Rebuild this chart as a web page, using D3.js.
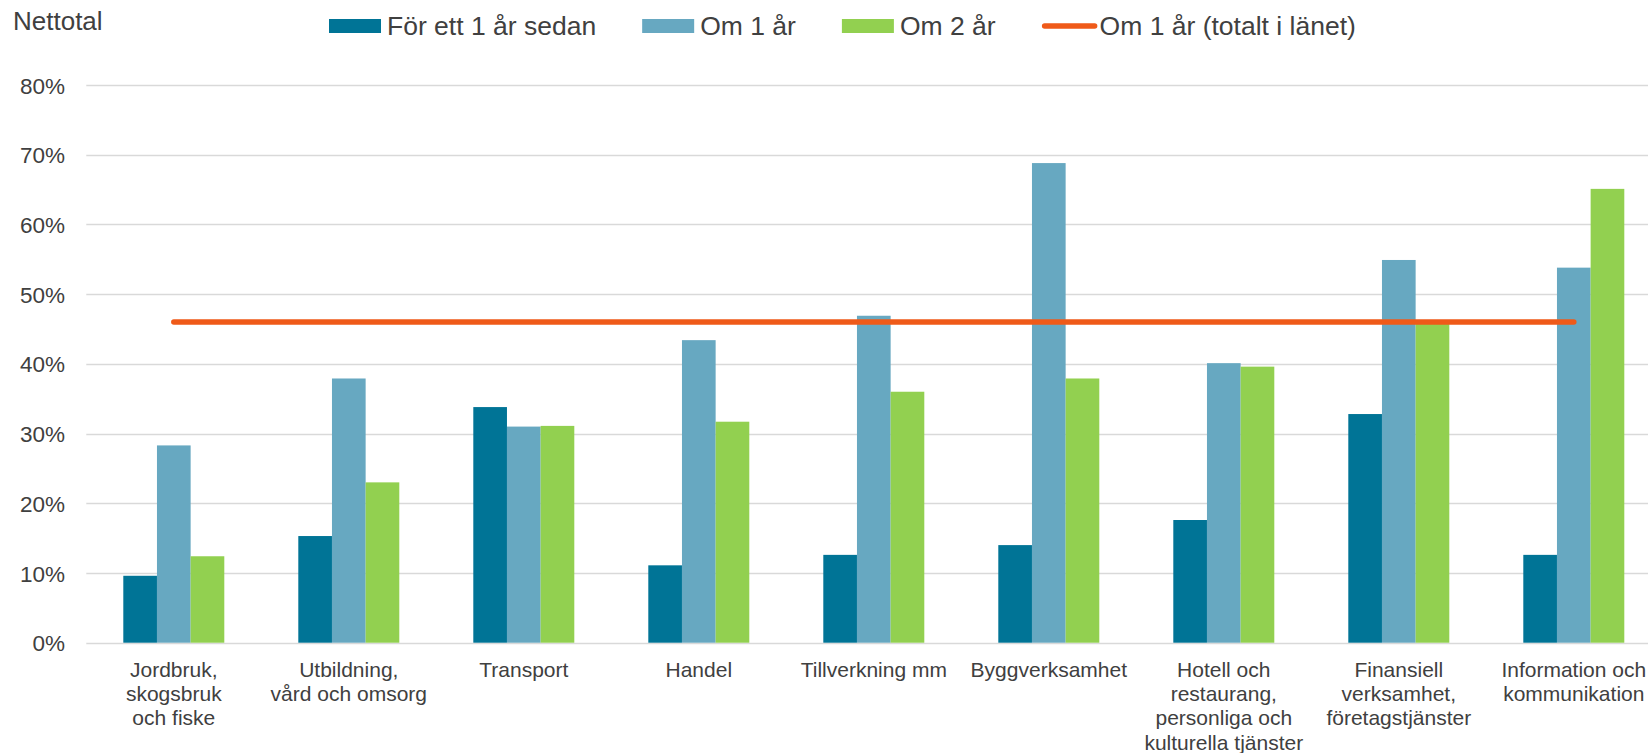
<!DOCTYPE html>
<html>
<head>
<meta charset="utf-8">
<script src="https://cdn.jsdelivr.net/npm/d3@7/dist/d3.min.js"></script>
<style>
  html, body { margin: 0; padding: 0; background: #fff; overflow: hidden; }
  svg { display: block; }
  text { font-family: "Liberation Sans", Arial, Helvetica, sans-serif; fill: #404040; }
</style>
</head>
<body>
<svg id="chart" width="1648" height="753"></svg>
<script>
// ---- data ----
const categories = [
  ["Jordbruk,", "skogsbruk", "och fiske"],
  ["Utbildning,", "vård och omsorg"],
  ["Transport"],
  ["Handel"],
  ["Tillverkning mm"],
  ["Byggverksamhet"],
  ["Hotell och", "restaurang,", "personliga och", "kulturella tjänster"],
  ["Finansiell", "verksamhet,", "företagstjänster"],
  ["Information och", "kommunikation"]
];
const seriesNames = ["För ett 1 år sedan", "Om 1 år", "Om 2 år"];
const lineName = "Om 1 år (totalt i länet)";
const forEttArSedan = [9.6, 15.3, 33.8, 11.1, 12.6, 14.0, 17.6, 32.8, 12.6];
const om1Ar        = [28.3, 37.9, 31.0, 43.4, 46.9, 68.8, 40.1, 54.9, 53.8];
const om2Ar        = [12.4, 23.0, 31.1, 31.7, 36.0, 37.9, 39.6, 45.8, 65.1];
const om1ArTotalt  = [46.0, 46.0, 46.0, 46.0, 46.0, 46.0, 46.0, 46.0, 46.0];
const yTicks = [0, 10, 20, 30, 40, 50, 60, 70, 80];
const yAxisTitle = "Nettotal";

const colors = ["#007496", "#67A8C1", "#92D050"];
const lineColor = "#EF5A19";

// ---- layout ----
const svg = d3.select("#chart");
const plotLeft = 86.3, plotRight = 1661.3, yBase = 642.7, yTop = 85;
const catKeys = categories.map((c, i) => i);

const x = d3.scaleBand().domain(catKeys).range([plotLeft, plotRight]).paddingInner(0).paddingOuter(0);
const xInner = d3.scaleBand().domain(seriesNames).range([37, x.bandwidth() - 37]).padding(0);
const y = d3.scaleLinear().domain([0, 80]).range([yBase, yTop]);

// y axis labels
const yAxis = d3.axisLeft(y).tickValues(yTicks).tickFormat(d => d + "%").tickSize(0).tickPadding(0);
const gAxis = svg.append("g").attr("transform", `translate(65,0)`).call(yAxis);
gAxis.select(".domain").remove();
gAxis.selectAll("text")
  .attr("x", 0)
  .attr("dy", "0.36em")
  .style("font-size", "22.5px")
  .style("font-family", '"Liberation Sans", Arial, sans-serif')
  .attr("fill", "#404040");

// gridlines
svg.append("g").selectAll("line").data(yTicks).join("line")
  .attr("x1", plotLeft).attr("x2", 1648)
  .attr("y1", d => Math.round(y(d)) + 0.5).attr("y2", d => Math.round(y(d)) + 0.5)
  .attr("stroke", "#D9D9D9").attr("stroke-width", 1.6);

// bars
const seriesData = [forEttArSedan, om1Ar, om2Ar];
seriesData.forEach((vals, si) => {
  svg.append("g").selectAll("rect").data(vals).join("rect")
    .attr("x", (d, i) => x(i) + xInner(seriesNames[si]))
    .attr("width", xInner.bandwidth())
    .attr("y", d => y(d))
    .attr("height", d => y(0) - y(d))
    .attr("fill", colors[si]);
});

// line
const line = d3.line()
  .x((d, i) => x(i) + x.bandwidth() / 2)
  .y(d => y(d));
svg.append("path").datum(om1ArTotalt)
  .attr("d", line)
  .attr("fill", "none")
  .attr("stroke", lineColor)
  .attr("stroke-width", 5.5)
  .attr("stroke-linecap", "round")
  .attr("stroke-linejoin", "round");

// category labels
const gLab = svg.append("g");
categories.forEach((lines, i) => {
  const t = gLab.append("text")
    .attr("text-anchor", "middle")
    .attr("x", x(i) + x.bandwidth() / 2)
    .attr("y", 677)
    .style("font-size", "21px");
  lines.forEach((ln, j) => {
    t.append("tspan").attr("x", x(i) + x.bandwidth() / 2).attr("y", 677 + j * 24.2).text(ln);
  });
});

// y-axis title
svg.append("text").attr("x", 13).attr("y", 30).style("font-size", "26px").text(yAxisTitle);

// legend
const legend = svg.append("g");
let lx = 329;
const legendItems = seriesNames.map((n, i) => ({name: n, type: "rect", color: colors[i]}))
  .concat([{name: lineName, type: "line", color: lineColor}]);
legendItems.forEach(it => {
  if (it.type === "rect") {
    legend.append("rect").attr("x", lx).attr("y", 19).attr("width", 52).attr("height", 14).attr("fill", it.color);
  } else {
    legend.append("line").attr("x1", lx + 3).attr("x2", lx + 53).attr("y1", 26).attr("y2", 26)
      .attr("stroke", it.color).attr("stroke-width", 5.5).attr("stroke-linecap", "round");
  }
  const t = legend.append("text").attr("x", lx + 58).attr("y", 34.5).style("font-size", "26.5px").text(it.name);
  const w = t.node().getComputedTextLength();
  lx = lx + 58 + w + 46;
});
</script>
</body>
</html>
